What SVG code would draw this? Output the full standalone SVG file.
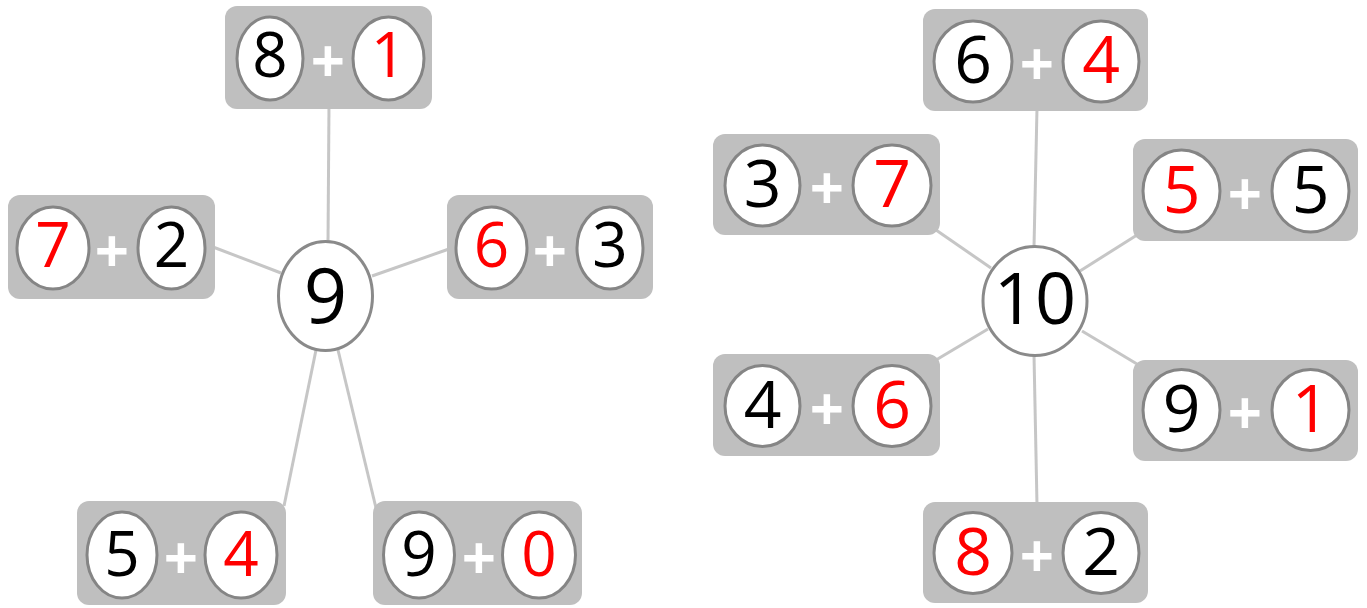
<svg xmlns="http://www.w3.org/2000/svg" width="1367" height="608" viewBox="0 0 1367 608">
<style>
.box{fill:#bfbfbf}
.ov{fill:#fff;stroke:#858585;stroke-width:3}
.hub{fill:#fff;stroke:#8a8a8a;stroke-width:3}
.ln{stroke:#c6c6c6;stroke-width:3;fill:none}
text{font-family:"Open Sans","DejaVu Sans",sans-serif;text-anchor:middle}
.d{font-size:62px}
.dr{font-size:66px}
.k{fill:#000}
.r{fill:#ff0000}
.p{fill:#fff;font-size:60px;font-weight:700}
.h{font-size:76px;fill:#000}
</style>
<g id="connectors">
<line class="ln" x1="329" y1="105" x2="328" y2="242"/>
<line class="ln" x1="213" y1="247" x2="281" y2="273"/>
<line class="ln" x1="449" y1="249" x2="372" y2="276"/>
<line class="ln" x1="316" y1="350" x2="284" y2="506"/>
<line class="ln" x1="338" y1="350" x2="376" y2="508"/>
<line class="ln" x1="1037" y1="108" x2="1034" y2="247"/>
<line class="ln" x1="1034" y1="355" x2="1037" y2="505"/>
<line class="ln" x1="936" y1="230" x2="991" y2="268"/>
<line class="ln" x1="1137" y1="235" x2="1080" y2="271"/>
<line class="ln" x1="936" y1="360" x2="988" y2="329"/>
<line class="ln" x1="1137" y1="364" x2="1082" y2="331"/>
</g>
<g id="hub9">
<ellipse class="hub" cx="325.5" cy="296" rx="47" ry="54.5"/>
<text class="h" x="325.5" y="323">9</text>
</g>
<g id="hub10">
<ellipse class="hub" cx="1035" cy="301" rx="52" ry="54.5"/>
<text class="h" x="1035" y="324" style="font-size:72px">10</text>
</g>
<g id="n-8-1">
<rect class="box" x="225" y="6" width="207" height="103" rx="12"/>
<ellipse class="ov" cx="270" cy="58.5" rx="33" ry="41.5"/>
<ellipse class="ov" cx="388.5" cy="58.5" rx="35.5" ry="41.5"/>
<text class="d k" x="270" y="77">8</text>
<text class="p" x="328" y="83">+</text>
<text class="d r" x="388.5" y="77">1</text>
</g>
<g id="n-7-2">
<rect class="box" x="8" y="195" width="207" height="104" rx="12"/>
<ellipse class="ov" cx="53" cy="248" rx="36" ry="41"/>
<ellipse class="ov" cx="171.5" cy="248" rx="33.5" ry="41"/>
<text class="d r" x="53" y="267">7</text>
<text class="p" x="112" y="273">+</text>
<text class="d k" x="171.5" y="267">2</text>
</g>
<g id="n-6-3">
<rect class="box" x="447" y="195" width="206" height="104" rx="12"/>
<ellipse class="ov" cx="491.5" cy="248" rx="35.5" ry="41"/>
<ellipse class="ov" cx="610" cy="248" rx="33" ry="41"/>
<text class="d r" x="491.5" y="267">6</text>
<text class="p" x="550" y="273">+</text>
<text class="d k" x="610" y="267">3</text>
</g>
<g id="n-5-4">
<rect class="box" x="77" y="501" width="209" height="104" rx="12"/>
<ellipse class="ov" cx="122" cy="555" rx="35" ry="43"/>
<ellipse class="ov" cx="241" cy="555" rx="36" ry="43"/>
<text class="d k" x="122" y="576">5</text>
<text class="p" x="181" y="580">+</text>
<text class="d r" x="241" y="576">4</text>
</g>
<g id="n-9-0">
<rect class="box" x="373" y="501" width="209" height="104" rx="12"/>
<ellipse class="ov" cx="419" cy="555" rx="35.5" ry="43"/>
<ellipse class="ov" cx="539" cy="555" rx="36.5" ry="43"/>
<text class="d k" x="419" y="576">9</text>
<text class="p" x="479" y="580">+</text>
<text class="d r" x="539" y="576">0</text>
</g>
<g id="n-6-4">
<rect class="box" x="923" y="9" width="225" height="102" rx="12"/>
<ellipse class="ov" cx="973" cy="61.5" rx="39" ry="40.5"/>
<ellipse class="ov" cx="1101" cy="61.5" rx="38" ry="40.5"/>
<text class="dr k" x="973" y="83">6</text>
<text class="p" x="1037" y="86">+</text>
<text class="dr r" x="1101" y="83">4</text>
</g>
<g id="n-3-7">
<rect class="box" x="713" y="134" width="227" height="101" rx="12"/>
<ellipse class="ov" cx="762.5" cy="185.5" rx="37.5" ry="40.5"/>
<ellipse class="ov" cx="892" cy="185.5" rx="39" ry="40.5"/>
<text class="dr k" x="762.5" y="207">3</text>
<text class="p" x="827" y="210">+</text>
<text class="dr r" x="892" y="207">7</text>
</g>
<g id="n-5-5">
<rect class="box" x="1133" y="139" width="225" height="102" rx="12"/>
<ellipse class="ov" cx="1181.5" cy="191" rx="38.5" ry="41"/>
<ellipse class="ov" cx="1310.5" cy="191" rx="38.5" ry="41"/>
<text class="dr r" x="1181.5" y="213">5</text>
<text class="p" x="1245" y="216">+</text>
<text class="dr k" x="1310.5" y="213">5</text>
</g>
<g id="n-4-6">
<rect class="box" x="713" y="354" width="227" height="102" rx="12"/>
<ellipse class="ov" cx="762.5" cy="406" rx="37.5" ry="40.5"/>
<ellipse class="ov" cx="892" cy="406" rx="39" ry="40.5"/>
<text class="dr k" x="762.5" y="428">4</text>
<text class="p" x="827" y="431">+</text>
<text class="dr r" x="892" y="428">6</text>
</g>
<g id="n-9-1">
<rect class="box" x="1133" y="360" width="225" height="101" rx="12"/>
<ellipse class="ov" cx="1181.5" cy="410" rx="38.5" ry="40.5"/>
<ellipse class="ov" cx="1310.5" cy="410" rx="38.5" ry="40.5"/>
<text class="dr k" x="1181.5" y="432">9</text>
<text class="p" x="1245" y="435">+</text>
<text class="dr r" x="1310.5" y="432">1</text>
</g>
<g id="n-8-2">
<rect class="box" x="923" y="502" width="225" height="101" rx="12"/>
<ellipse class="ov" cx="973" cy="553" rx="39" ry="40.5"/>
<ellipse class="ov" cx="1101" cy="553" rx="38" ry="40.5"/>
<text class="dr r" x="973" y="575">8</text>
<text class="p" x="1037" y="578">+</text>
<text class="dr k" x="1101" y="575">2</text>
</g>
</svg>
